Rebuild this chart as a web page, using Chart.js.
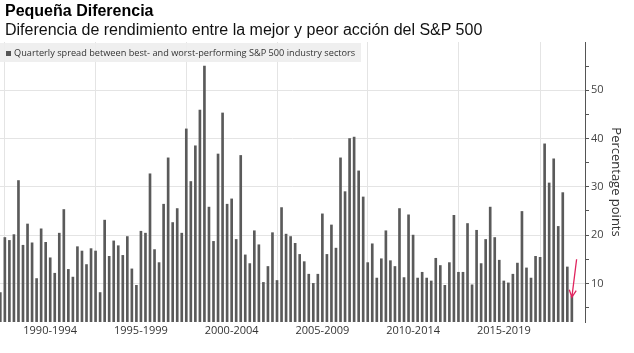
<!DOCTYPE html>
<html>
<head>
<meta charset="utf-8">
<script src="https://cdn.jsdelivr.net/npm/chart.js@4/dist/chart.umd.min.js"></script>
<style>
  html, body { margin: 0; padding: 0; background: #fff; }
  #wrap { position: relative; width: 634px; height: 353px; overflow: hidden; }
  #chart { position: absolute; left: 0; top: 0; }
  #title { position: absolute; left: 5px; top: 2px; font: bold 16px 'Liberation Sans', Arial, sans-serif; color: #000; white-space: nowrap; }
  #subtitle { position: absolute; left: 5px; top: 21px; font: 16px 'Liberation Sans', Arial, sans-serif; color: #111; white-space: nowrap; }
  #legend { position: absolute; left: 0; top: 43px; width: 361px; height: 19px; background: rgba(238, 238, 238, 0.93);
            font: 9.2px 'Open Sans', sans-serif; color: #333; line-height: 19px; white-space: nowrap; }
  #legend i { display: inline-block; width: 5px; height: 5px; background: #555; margin: 0 3px 0 6px; vertical-align: 0px; }
</style>
</head>
<body>
<div id="wrap">
  <canvas id="chart" width="634" height="353"></canvas>
  <div id="title">Pequeña Diferencia</div>
  <div id="subtitle">Diferencia de rendimiento entre la mejor y peor acción del S&amp;P 500</div>
  <div id="legend"><i></i>Quarterly spread between best- and worst-performing S&amp;P 500 industry sectors</div>
</div>
<script>
// primer trimestre de la serie: 4T 1989
const startYear = 1989;
const startQuarter = 4;

// diferencia trimestral (puntos porcentuales)
const spread = [
  8.1, 19.5, 18.9, 20.1, 31.3, 17.9, 22.3, 18.4, 11.0, 21.3,
  18.5, 15.3, 12.1, 20.4, 25.3, 12.9, 11.3, 17.6, 16.7, 13.9,
  17.2, 16.7, 8.1, 23.1, 15.6, 18.8, 17.8, 15.8, 19.7, 13.0,
  9.6, 20.8, 20.4, 32.7, 17.0, 14.3, 26.4, 36.0, 22.6, 25.5,
  20.4, 42.0, 31.1, 38.5, 45.9, 55.0, 25.8, 18.7, 36.8, 45.3,
  26.4, 27.5, 19.1, 36.5, 15.9, 14.1, 20.9, 18.0, 10.2, 13.5,
  20.5, 10.6, 25.7, 20.2, 19.7, 18.3, 16.0, 14.5, 11.9, 10.0,
  11.9, 24.4, 16.0, 22.1, 17.3, 36.0, 29.0, 40.0, 40.3, 33.3,
  27.9, 14.3, 18.2, 11.1, 15.1, 20.9, 14.7, 13.5, 25.5, 11.2,
  24.2, 20.0, 11.1, 12.3, 11.1, 10.5, 15.2, 13.7, 9.6, 14.3,
  24.1, 12.3, 12.3, 22.4, 9.7, 21.0, 14.1, 19.1, 25.8, 19.5,
  14.8, 10.5, 10.1, 11.9, 14.2, 24.9, 13.2, 11.1, 15.6, 15.4,
  38.9, 30.8, 35.8, 21.8, 28.8, 13.4, 7.4
];

const periodLabels = ['1990-1994', '1995-1999', '2000-2004', '2005-2009', '2010-2014', '2015-2019'];
const gridYears = [1990, 1995, 2000, 2005, 2010, 2015, 2019.5];
const yTicks = [5, 10, 15, 20, 25, 30, 35, 40, 45, 50, 55];

const quarterIndex = (year) => (year - startYear) * 4 + (1 - startQuarter);

const quarters = spread.map((_, i) => {
  const q = startQuarter - 1 + i;
  return (startYear + Math.floor(q / 4)) + ' T' + (q % 4 + 1);
});
const points = spread.map((v, i) => ({ x: i, y: v, q: quarters[i] }));

const labelPos = periodLabels.map((p) => quarterIndex(parseInt(p, 10)) + 10);
const gridPos = gridYears.map(quarterIndex);

const xMin = -0.07;
const xMax = 128.9;
const axisFont = { family: "'Open Sans', sans-serif", size: 11 };

// flecha roja sobre el último trimestre
const arrowPlugin = {
  id: 'arrow',
  afterDatasetsDraw(chart) {
    const { ctx, scales } = chart;
    const last = spread.length - 1;
    const x0 = scales.x.getPixelForValue(last + 1.05);
    const y0 = scales.y.getPixelForValue(15.0);
    const x1 = scales.x.getPixelForValue(last);
    const y1 = scales.y.getPixelForValue(7.1);
    const ang = Math.atan2(y1 - y0, x1 - x0);
    ctx.save();
    ctx.strokeStyle = '#e0245e';
    ctx.lineWidth = 1.3;
    ctx.beginPath();
    ctx.moveTo(x0, y0);
    ctx.lineTo(x1, y1);
    ctx.moveTo(x1 - 8 * Math.cos(ang - 0.45), y1 - 8 * Math.sin(ang - 0.45));
    ctx.lineTo(x1, y1);
    ctx.lineTo(x1 - 8 * Math.cos(ang + 0.45), y1 - 8 * Math.sin(ang + 0.45));
    ctx.stroke();
    ctx.restore();
  }
};

new Chart(document.getElementById('chart'), {
  type: 'bar',
  data: {
    datasets: [{
      label: 'Quarterly spread between best- and worst-performing S&P 500 industry sectors',
      data: points,
      backgroundColor: '#5a5a5a',
      barThickness: 2,
      xAxisID: 'x',
      yAxisID: 'y'
    }]
  },
  options: {
    responsive: false,
    animation: false,
    layout: { padding: { top: 42, left: 0, right: 0, bottom: 0 } },
    plugins: {
      legend: { display: false },
      tooltip: { enabled: false },
      title: { display: false }
    },
    scales: {
      x: {
        type: 'linear',
        position: 'bottom',
        offset: false,
        min: xMin,
        max: xMax,
        afterBuildTicks: (s) => { s.ticks = labelPos.map((v) => ({ value: v })); },
        afterFit: (s) => { s.height = 31; },
        grid: { display: false, drawTicks: false, offset: false },
        border: { display: false },
        ticks: {
          autoSkip: false,
          maxRotation: 0,
          padding: 2,
          color: '#333',
          font: axisFont,
          callback: (v, i) => periodLabels[i]
        }
      },
      xg: {
        type: 'linear',
        position: 'bottom',
        offset: false,
        min: xMin,
        max: xMax,
        afterBuildTicks: (s) => { s.ticks = gridPos.map((v) => ({ value: v })); },
        afterFit: (s) => { s.height = 0; },
        grid: { color: '#e4e4e4', drawTicks: false, offset: false },
        border: { display: false },
        ticks: { display: false }
      },
      y: {
        position: 'right',
        min: 2,
        max: 60,
        afterBuildTicks: (s) => { s.ticks = yTicks.map((v) => ({ value: v })); },
        afterFit: (s) => { s.width = 49; },
        grid: {
          color: (c) => (c.tick && c.tick.value % 10 === 0 ? '#e4e4e4' : 'rgba(0,0,0,0)'),
          tickColor: '#555',
          tickLength: 4
        },
        border: { display: true, color: '#555' },
        ticks: {
          padding: 2,
          color: '#444',
          font: axisFont,
          callback: (v) => (v % 10 === 0 ? v : '')
        },
        title: {
          display: true,
          text: 'Percentage points',
          color: '#333',
          font: { family: "'Open Sans', sans-serif", size: 13 },
          padding: { top: 10, bottom: 0 }
        }
      }
    }
  },
  plugins: [arrowPlugin]
});
</script>
</body>
</html>
